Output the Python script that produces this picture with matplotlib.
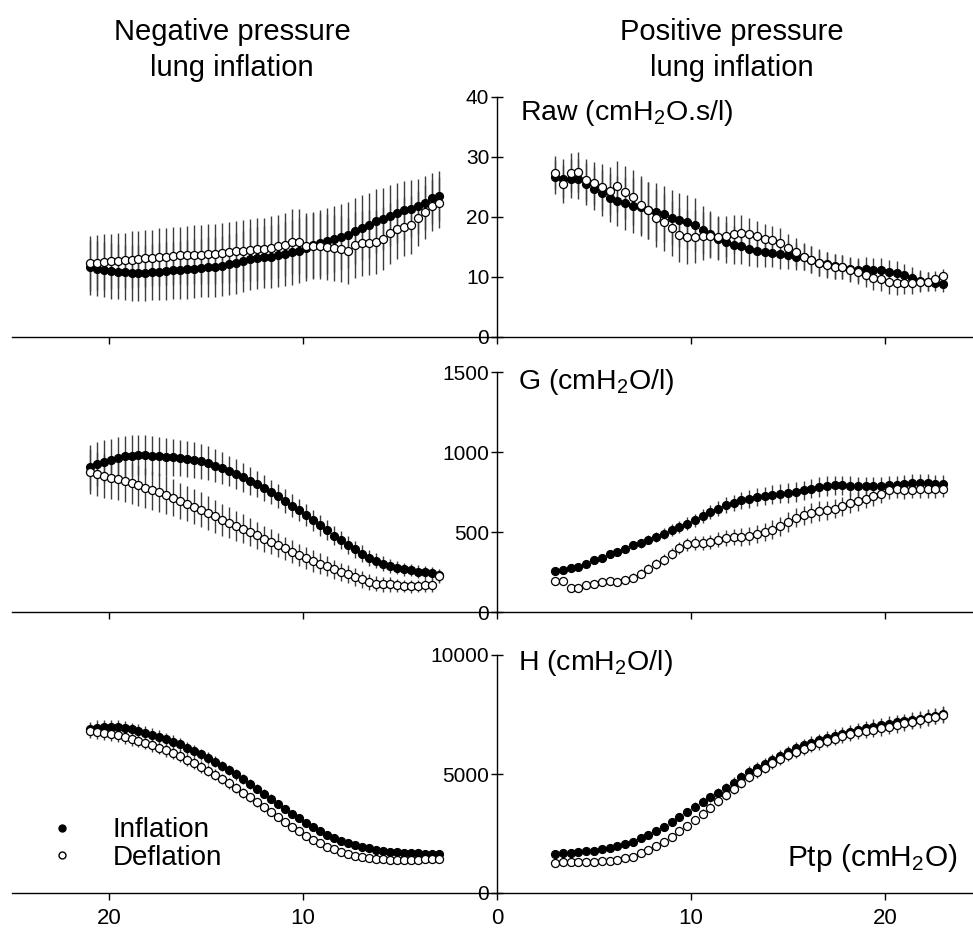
import numpy as np
import matplotlib.pyplot as plt
from matplotlib.lines import Line2D
from matplotlib.ticker import FuncFormatter

plt.rcParams["font.family"] = ["Liberation Sans", "DejaVu Sans"]
plt.rcParams["mathtext.fontset"] = "custom"
plt.rcParams["mathtext.rm"] = "Liberation Sans"
plt.rcParams["mathtext.it"] = "Liberation Sans:italic"

# ------------------------------------------------------------
# Data, 51 points per side
# left side plotted at negative Ptp (x from -21 to -3)
# right side plotted at positive Ptp (x from 3 to 23)
# ------------------------------------------------------------

p_neg = np.linspace(-21.0, -3.0, 51)
p_pos = np.linspace(3.0, 23.0, 51)

# Raw (cmH2O.s/l)
raw_neg_infl = [11.6, 11.4, 11.2, 11.0, 10.9, 10.8, 10.7, 10.7, 10.7, 10.8,
                10.9, 11.0, 11.1, 11.2, 11.3, 11.4, 11.5, 11.6, 11.7, 11.9,
                12.1, 12.3, 12.6, 13.0, 13.2, 13.3, 13.4, 13.6, 13.8, 14.1,
                14.4, 14.8, 15.3, 15.6, 16.0, 16.3, 16.7, 17.0, 17.6, 18.2,
                18.6, 19.3, 19.7, 20.2, 20.7, 21.1, 21.4, 21.8, 22.4, 23.1, 23.5]
raw_neg_defl = [12.3, 12.4, 12.5, 12.6, 12.7, 12.8, 12.9, 13.0, 13.1, 13.2,
                13.3, 13.4, 13.5, 13.6, 13.6, 13.7, 13.7, 13.8, 13.9, 14.0,
                14.1, 14.3, 14.4, 14.5, 14.6, 14.7, 14.9, 15.1, 15.4, 15.9,
                15.9, 15.2, 15.1, 15.1, 15.0, 14.8, 14.6, 14.4, 15.3, 15.6,
                15.7, 15.8, 16.4, 17.3, 18.0, 18.4, 18.7, 19.8, 20.8, 21.9, 22.4]
raw_neg_sd = [4.6, 4.6, 4.6, 4.6, 4.6, 4.6, 4.7, 4.7, 4.7, 4.7,
              4.8, 4.8, 4.8, 4.8, 4.9, 4.9, 4.9, 5.0, 5.0, 5.0,
              5.1, 5.1, 5.1, 5.2, 5.2, 5.2, 5.3, 5.3, 5.3, 5.4,
              5.4, 5.4, 5.5, 5.5, 5.5, 5.5, 5.5, 5.5, 5.5, 5.4,
              5.4, 5.3, 5.2, 5.1, 5.0, 4.9, 4.8, 4.6, 4.5, 4.3, 4.2]

raw_pos_infl = [26.7, 26.4, 26.4, 26.3, 25.5, 24.7, 24.0, 23.1, 22.7, 22.3,
                21.9, 21.6, 21.1, 20.8, 20.5, 19.9, 19.5, 19.2, 18.7, 17.8,
                17.2, 16.4, 15.8, 15.3, 15.1, 14.7, 14.3, 14.1, 14.0, 13.8,
                13.7, 13.4, 13.3, 12.9, 12.4, 12.1, 11.8, 11.6, 11.3, 11.2,
                11.3, 11.2, 11.1, 10.9, 10.7, 10.3, 9.9, 9.4, 9.2, 9.0, 8.8]
raw_pos_defl = [27.4, 25.5, 27.4, 27.5, 26.1, 25.6, 25.0, 24.4, 25.1, 24.1,
                23.3, 22.0, 21.1, 19.8, 19.1, 18.1, 17.0, 16.6, 16.7, 16.8,
                16.9, 16.6, 16.8, 17.2, 17.3, 17.1, 16.8, 16.3, 16.1, 15.7,
                14.9, 14.2, 13.4, 12.9, 12.3, 12.0, 11.7, 11.6, 11.2, 10.8,
                10.3, 9.9, 9.6, 9.2, 9.0, 9.0, 9.0, 9.2, 9.2, 9.6, 10.1]
raw_pos_sd = [2.8, 3.2, 3.2, 3.3, 3.5, 3.6, 3.8, 4.0, 4.2, 4.4,
              4.6, 4.8, 4.8, 4.8, 4.7, 4.6, 4.5, 4.5, 4.4, 4.0,
              3.8, 3.6, 3.4, 3.2, 3.0, 2.8, 2.6, 2.5, 2.4, 2.4,
              2.3, 2.3, 2.2, 2.2, 2.2, 2.1, 2.1, 2.0, 2.0, 2.0,
              2.0, 2.0, 2.0, 2.0, 2.0, 1.9, 1.8, 1.7, 1.6, 1.4, 1.3]

# G (cmH2O/l)
g_neg_infl = [905, 925, 940, 950, 962, 972, 978, 982, 980, 978,
              972, 968, 966, 962, 958, 950, 942, 930, 915, 898,
              882, 863, 842, 820, 800, 775, 750, 723, 693, 665,
              636, 605, 574, 541, 510, 478, 450, 418, 392, 365,
              340, 320, 303, 288, 278, 268, 262, 253, 247, 241, 230]
g_neg_defl = [877, 863, 850, 840, 829, 819, 804, 791, 777, 762,
              747, 730, 714, 695, 678, 657, 640, 619, 598, 577,
              558, 539, 521, 500, 480, 459, 438, 417, 397, 376,
              355, 338, 319, 302, 285, 266, 250, 236, 219, 204,
              188, 178, 174, 172, 167, 163, 161, 163, 167, 167, 222]
g_neg_sd = [140, 138, 136, 134, 132, 130, 128, 126, 124, 122,
            120, 118, 116, 114, 112, 110, 108, 105, 102, 99,
            96, 93, 90, 87, 84, 81, 78, 76, 74, 72,
            70, 68, 66, 64, 62, 60, 58, 56, 54, 52,
            50, 48, 46, 44, 42, 40, 40, 40, 40, 40, 40]

g_pos_infl = [254, 265, 276, 282, 303, 323, 340, 361, 375, 396,
              417, 431, 452, 469, 490, 511, 531, 552, 573, 598,
              625, 646, 667, 681, 698, 708, 719, 725, 733, 740,
              744, 750, 760, 771, 781, 787, 792, 792, 787, 785,
              785, 785, 787, 792, 796, 802, 806, 808, 806, 802, 802]
g_pos_defl = [192, 196, 150, 152, 167, 177, 188, 192, 188, 198,
              215, 240, 271, 302, 327, 365, 400, 423, 431, 431,
              438, 452, 463, 469, 469, 475, 490, 500, 515, 536,
              563, 590, 604, 619, 631, 636, 646, 661, 681, 692,
              708, 723, 740, 760, 771, 760, 765, 767, 767, 767, 771]
g_pos_sd = [18, 18, 19, 19, 20, 21, 22, 23, 24, 25,
            26, 28, 30, 32, 34, 36, 38, 40, 42, 44,
            46, 48, 50, 52, 54, 55, 56, 57, 58, 59,
            60, 60, 60, 60, 60, 60, 60, 60, 60, 60,
            58, 58, 58, 56, 56, 56, 55, 55, 55, 55, 55]

# H (cmH2O/l)
h_neg_infl = [6900, 6950, 6980, 6980, 6960, 6920, 6870, 6800, 6730, 6650,
              6560, 6460, 6360, 6240, 6110, 5970, 5820, 5670, 5510, 5340,
              5160, 4980, 4790, 4590, 4390, 4180, 3970, 3760, 3550, 3340,
              3140, 2950, 2770, 2600, 2450, 2320, 2200, 2100, 2010, 1940,
              1870, 1820, 1780, 1740, 1710, 1690, 1670, 1660, 1650, 1650, 1640]
h_neg_defl = [6800, 6780, 6740, 6690, 6630, 6560, 6480, 6400, 6310, 6210,
              6100, 5990, 5870, 5740, 5600, 5450, 5300, 5140, 4970, 4790,
              4610, 4420, 4220, 4020, 3810, 3600, 3390, 3180, 2980, 2780,
              2590, 2410, 2240, 2090, 1950, 1830, 1720, 1630, 1560, 1500,
              1460, 1430, 1410, 1400, 1390, 1390, 1390, 1400, 1410, 1430, 1440]
h_neg_sd = [300, 300, 300, 300, 300, 295, 290, 285, 280, 275,
            270, 265, 260, 255, 250, 245, 240, 235, 230, 225,
            220, 215, 210, 200, 190, 180, 170, 160, 150, 140,
            130, 125, 120, 115, 110, 105, 100, 95, 90, 90,
            85, 85, 80, 80, 80, 80, 80, 80, 80, 80, 80]

h_pos_infl = [1640, 1660, 1690, 1720, 1750, 1780, 1830, 1890, 1960, 2050,
              2160, 2290, 2440, 2610, 2790, 2990, 3200, 3410, 3630, 3830,
              4020, 4210, 4400, 4640, 4870, 5100, 5270, 5430, 5590, 5750,
              5910, 6080, 6200, 6320, 6430, 6520, 6610, 6700, 6780, 6850,
              6920, 6990, 7060, 7110, 7170, 7220, 7270, 7330, 7390, 7450, 7510]
h_pos_defl = [1280, 1290, 1300, 1300, 1310, 1320, 1340, 1360, 1390, 1450,
              1530, 1660, 1810, 1980, 2160, 2370, 2590, 2830, 3070, 3330,
              3590, 3850, 4120, 4380, 4640, 4890, 5080, 5270, 5450, 5620,
              5780, 5940, 6060, 6180, 6290, 6390, 6490, 6590, 6680, 6750,
              6810, 6860, 6920, 6990, 7060, 7130, 7200, 7270, 7340, 7410, 7480]
h_pos_sd = [60, 65, 70, 75, 80, 85, 90, 95, 100, 105,
            110, 115, 120, 130, 140, 150, 160, 170, 180, 190,
            200, 205, 210, 215, 220, 225, 230, 235, 240, 245,
            250, 255, 260, 265, 270, 275, 280, 285, 290, 295,
            300, 305, 310, 315, 320, 320, 325, 325, 330, 330, 330]

panel_labels = [r"Raw (cmH$_2$O.s/l)", r"G (cmH$_2$O/l)", r"H (cmH$_2$O/l)"]
y_maxes = [40, 1500, 10000]
y_ticks = [[0, 10, 20, 30, 40], [0, 500, 1000, 1500], [0, 5000, 10000]]
x_ticks = [-20, -10, 0, 10, 20]

panels = [
    (raw_neg_infl, raw_neg_defl, raw_neg_sd, raw_pos_infl, raw_pos_defl, raw_pos_sd),
    (g_neg_infl, g_neg_defl, g_neg_sd, g_pos_infl, g_pos_defl, g_pos_sd),
    (h_neg_infl, h_neg_defl, h_neg_sd, h_pos_infl, h_pos_defl, h_pos_sd),
]

# ------------------------------------------------------------
# Figure: three stacked panels sharing a centre y-axis at Ptp = 0
# ------------------------------------------------------------

W, H = 973, 933
fig = plt.figure(figsize=(W / 100, H / 100), dpi=100)

# (pixel row of y=0, pixel row of y=max) for each panel
rows = [(337, 97), (612, 372), (893, 655)]
label_rows = [113, 382, 663]
x_left_px, x0_px, px_per_unit = 12, 497, 19.4

for k, (data, (y0px, ytop)) in enumerate(zip(panels, rows)):
    xmin = (x_left_px - x0_px) / px_per_unit
    xmax = 25.0
    left = x_left_px / W
    width = (xmax - xmin) * px_per_unit / W
    ax = fig.add_axes([left, (H - y0px) / H, width, (y0px - ytop) / H])
    ax.set_xlim(xmin, xmax)
    ax.set_ylim(0, y_maxes[k])

    ni, nd, nsd, pi, pd_, psd = data
    for x, yi, yd, sd in [(p_neg, ni, nd, nsd), (p_pos, pi, pd_, psd)]:
        ax.errorbar(x, yi, yerr=sd, fmt="none", ecolor="#3c3c3c",
                    elinewidth=1.0, capsize=0, zorder=1, clip_on=False)
        ax.errorbar(x, yd, yerr=sd, fmt="none", ecolor="#3c3c3c",
                    elinewidth=1.0, capsize=0, zorder=1, clip_on=False)
        ax.plot(x, yi, "o", ms=5.8, mfc="black", mec="black", mew=0.8,
                zorder=3, clip_on=False)
        ax.plot(x, yd, "o", ms=5.8, mfc="white", mec="black", mew=0.9,
                zorder=4, clip_on=False)

    for s in ["top", "right"]:
        ax.spines[s].set_visible(False)
    ax.spines["left"].set_position(("data", 0))
    ax.spines["bottom"].set_position(("data", 0))
    ax.spines["left"].set_linewidth(1.0)
    ax.spines["bottom"].set_linewidth(1.0)

    ax.set_yticks(y_ticks[k])
    ax.set_xticks(x_ticks)
    ax.tick_params(axis="y", direction="inout", length=9, width=1.0,
                   labelsize=15, pad=1)
    ax.tick_params(axis="x", direction="out", length=5, width=1.0,
                   labelsize=16, pad=6)
    ax.xaxis.set_major_formatter(FuncFormatter(lambda v, p: f"{abs(v):.0f}"))
    if k < 2:
        ax.tick_params(axis="x", labelbottom=False)
    ax.patch.set_visible(False)

    lx = 520 if k == 0 else 518
    fig.text(lx / W, 1 - label_rows[k] / H, panel_labels[k],
             fontsize=20.5, ha="left", va="center")

# column titles
fig.text(232 / W, 1 - 50 / H, "Negative pressure\nlung inflation",
         ha="center", va="center", fontsize=21, linespacing=1.32)
fig.text(732 / W, 1 - 50 / H, "Positive pressure\nlung inflation",
         ha="center", va="center", fontsize=21, linespacing=1.32)

# x-axis label inside bottom panel
fig.text(958 / W, 1 - 858 / H, r"Ptp (cmH$_2$O)", ha="right", va="center",
         fontsize=21.5)

handles = [
    Line2D([], [], ls="none", marker="o", ms=5, mfc="black", mec="black"),
    Line2D([], [], ls="none", marker="o", ms=5, mfc="white", mec="black"),
]
fig.legend(handles, ["Inflation", "Deflation"], loc="center left",
           bbox_to_anchor=(48 / W, 1 - 844 / H), frameon=False, fontsize=20,
           handlelength=1.0, handletextpad=1.33, labelspacing=0.05,
           borderaxespad=0, borderpad=0)

plt.savefig("out.png", dpi=100)
